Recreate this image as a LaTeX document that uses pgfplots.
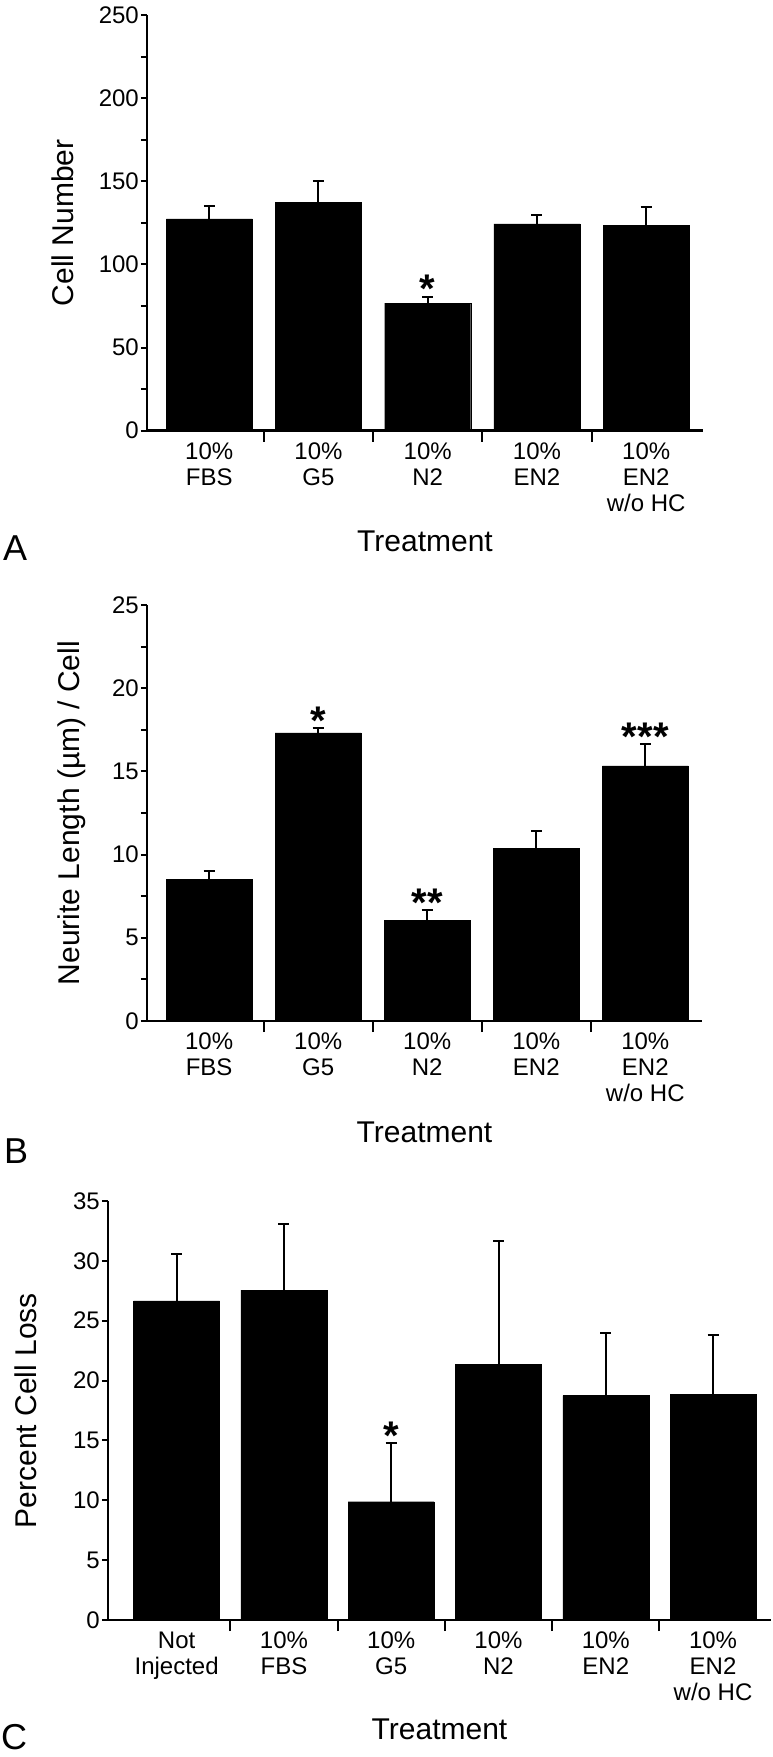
\documentclass[border=0pt]{standalone}
\usepackage{fontspec}
\setmainfont{Liberation Sans}
\usepackage{pgfplots}
\pgfplotsset{compat=1.18}

\pgfplotsset{
  panel/.style={
    scale only axis,
    anchor=south west,
    axis lines*=left,
    axis line style={line width=2.5pt, black},
    tick align=outside,
    major tick length=6pt, minor tick length=6pt,
    tick style={black, line width=2pt},
    ymin=0,
    enlargelimits=false,
    ybar, bar width=86pt,
    /pgf/number format/assume math mode=true,
    yticklabel style={font=\fontsize{24}{26}\selectfont, inner sep=2pt},
    xtick style={/pgfplots/major tick length=11pt},
    xticklabels={},
    extra x tick style={/pgfplots/major tick length=0pt, tick style={draw=none},
      tick label style={font=\fontsize{24}{26}\selectfont, align=center, anchor=north, inner sep=0pt, yshift=-12pt}},
    xlabel style={font=\fontsize{30}{32}\selectfont, at={(axis description cs:0.5,0)}, anchor=base, yshift=-121pt},
    ylabel style={font=\fontsize{30}{32}\selectfont, anchor=base},
    clip=false,
  },
  bars/.style={fill=black, draw=black,
    error bars/.cd, y dir=plus, y explicit,
    error bar style={line width=2pt, black},
    error mark options={rotate=90, mark size=5.5pt, line width=2pt, black}},
}
\tikzset{star/.style={font=\fontsize{40}{40}\selectfont\bfseries, anchor=base, inner sep=0pt, yshift=-6pt}}

\begin{document}
\begin{tikzpicture}
\useasboundingbox (0,0) rectangle (773pt,-1757pt);

% Panel A
\begin{axis}[panel, at={(147pt,-430.7pt)},
  width=556pt, height=415.7pt,
  xmin=-0.57, xmax=4.52, ymax=250,
  ytick={0,50,...,250}, minor y tick num=1,
  xtick={0.5,1.5,2.5,3.5},
  extra x ticks={0,1,2,3,4},
  extra x tick labels={{10\%\\FBS},{10\%\\G5},{10\%\\N2},{10\%\\EN2},{10\%\\EN2\\w/o HC}},
  xlabel={Treatment}, ylabel={Cell Number},
  ylabel style={at={(axis description cs:-0.1313,0.5)}}]
\addplot[bars] coordinates {(0,127.4) +- (0,7.5) (1,137.5) +- (0,12.5) (2,76.7) +- (0,3.9) (3,124.4) +- (0,5.1) (4,123.5) +- (0,10.8)};
\node[star] at (axis cs:2,80.6) {*};
\end{axis}

% Panel B
\begin{axis}[panel, at={(147pt,-1021pt)},
  width=555pt, height=416pt,
  xmin=-0.57, xmax=4.52, ymax=25,
  ytick={0,5,...,25}, minor y tick num=1,
  xtick={0.5,1.5,2.5,3.5},
  extra x ticks={0,1,2,3,4},
  extra x tick labels={{10\%\\FBS},{10\%\\G5},{10\%\\N2},{10\%\\EN2},{10\%\\EN2\\w/o HC}},
  xlabel={Treatment}, ylabel={Neurite Length (µm) / Cell},
  ylabel style={at={(axis description cs:-0.1216,0.5)}}]
\addplot[bars] coordinates {(0,8.52) +- (0,0.49) (1,17.32) +- (0,0.26) (2,6.07) +- (0,0.58) (3,10.39) +- (0,1.01) (4,15.34) +- (0,1.29)};
\node[star] at (axis cs:1,17.58) {*};
\node[star] at (axis cs:2,6.65) {**};
\node[star] at (axis cs:4,16.63) {***};
\end{axis}

% Panel C
\begin{axis}[panel, at={(108pt,-1620pt)},
  width=663pt, height=419pt,
  xmin=-0.64, xmax=5.54, ymax=35,
  ytick={0,5,...,35},
  xtick={0.5,1.5,2.5,3.5,4.5},
  extra x ticks={0,1,2,3,4,5},
  extra x tick labels={{Not\\Injected},{10\%\\FBS},{10\%\\G5},{10\%\\N2},{10\%\\EN2},{10\%\\EN2\\w/o HC}},
  xlabel={Treatment}, ylabel={Percent Cell Loss},
  xlabel style={yshift=2pt},
  ylabel style={at={(axis description cs:-0.1071,0.5)}}]
\addplot[bars] coordinates {(0,26.66) +- (0,3.92) (1,27.55) +- (0,5.55) (2,9.88) +- (0,4.88) (3,21.33) +- (0,10.32) (4,18.75) +- (0,5.22) (5,18.86) +- (0,4.94)};
\node[star] at (axis cs:2,14.76) {*};
\end{axis}

\node[anchor=base west, inner sep=0pt, font=\fontsize{36}{36}\selectfont] at (3pt,-560pt) {A};
\node[anchor=base west, inner sep=0pt, font=\fontsize{36}{36}\selectfont] at (4pt,-1163pt) {B};
\node[anchor=base west, inner sep=0pt, font=\fontsize{36}{36}\selectfont] at (1pt,-1749pt) {C};
\end{tikzpicture}
\end{document}
